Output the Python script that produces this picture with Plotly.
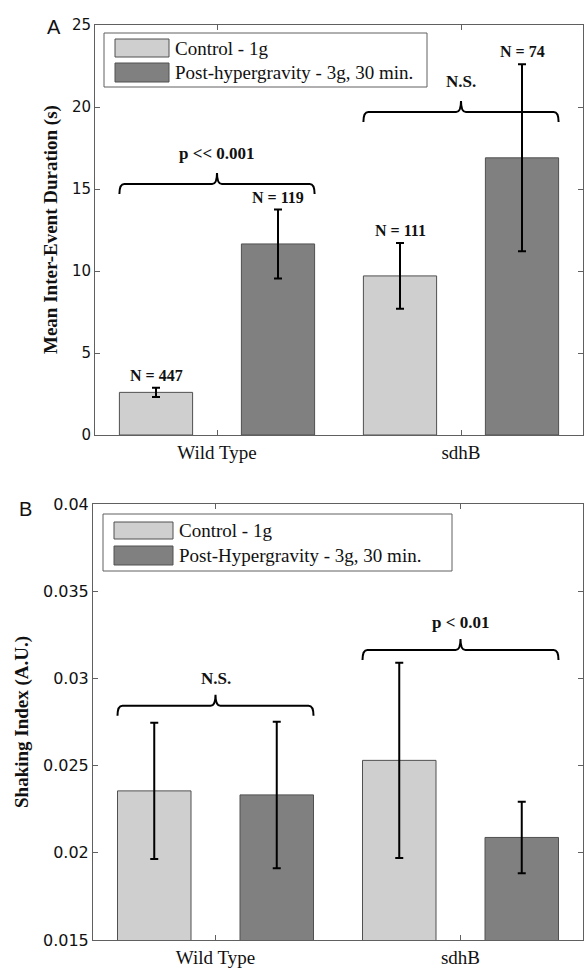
import plotly.graph_objects as go

# ---------------- data ----------------
groups = ["Wild Type", "sdhB"]

a_control = [2.6, 9.7]
a_control_err = [0.28, 2.0]
a_post = [11.65, 16.9]
a_post_err = [2.1, 5.7]
a_control_n = ["N = 447", "N = 111"]
a_post_n = ["N = 119", "N = 74"]
a_sig = ["p << 0.001", "N.S."]
a_sig_y = [15.3, 19.7]

b_control = [0.02355, 0.0253]
b_control_err = [0.0039, 0.0056]
b_post = [0.02332, 0.02088]
b_post_err = [0.0042, 0.00205]
b_sig = ["N.S.", "p < 0.01"]
b_sig_y = [0.02843, 0.03163]

a_yticks = [0, 5, 10, 15, 20, 25]
b_yticks = [0.015, 0.02, 0.025, 0.03, 0.035, 0.04]
b_yticktext = ["0.015", "0.02", "0.025", "0.03", "0.035", "0.04"]

legend_a = ["Control - 1g", "Post-hypergravity - 3g, 30 min."]
legend_b = ["Control - 1g", "Post-Hypergravity - 3g, 30 min."]

# ---------------- style ----------------
W, H = 584, 968
LIGHT = "#cfcfcf"
DARK = "#808080"
EDGE = "#505050"
AXC = "#606060"
SERIF = "Liberation Serif"
SANS = "DejaVu Sans"
BW = 0.3

def px(x):
    return x / W

def py(y):
    return 1 - y / H

fig = go.Figure()

panels = [
    dict(xa="x", ya="y", ctrl=a_control, ce=a_control_err, post=a_post, pe=a_post_err),
    dict(xa="x2", ya="y2", ctrl=b_control, ce=b_control_err, post=b_post, pe=b_post_err),
]
for p in panels:
    fig.add_trace(go.Bar(
        x=[0, 1], y=p["ctrl"], width=BW, offset=-0.4,
        marker=dict(color=LIGHT, line=dict(color=EDGE, width=1)),
        error_y=dict(type="data", array=p["ce"], color="black", thickness=2, width=4),
        xaxis=p["xa"], yaxis=p["ya"], showlegend=False, name="Control - 1g"))
    fig.add_trace(go.Bar(
        x=[0, 1], y=p["post"], width=BW, offset=0.1,
        marker=dict(color=DARK, line=dict(color=EDGE, width=1)),
        error_y=dict(type="data", array=p["pe"], color="black", thickness=2, width=4),
        xaxis=p["xa"], yaxis=p["ya"], showlegend=False, name="Post-hypergravity"))

axis_common = dict(showline=True, linecolor=AXC, linewidth=1, mirror="ticks",
                   ticks="inside", ticklen=5, tickcolor=AXC, showgrid=False,
                   zeroline=False, automargin=False)

fig.update_layout(
    width=W, height=H, margin=dict(l=0, r=0, t=0, b=0, autoexpand=False),
    plot_bgcolor="white", paper_bgcolor="white", barmode="overlay",
    xaxis=dict(domain=[px(95), px(583)], range=[-0.5, 1.5], tickvals=[0, 1],
               ticktext=groups, tickfont=dict(family=SERIF, size=19, color="#111"),
               anchor="y", **axis_common),
    yaxis=dict(domain=[py(435), py(25)], range=[0, 25], tickvals=a_yticks,
               tickfont=dict(family=SANS, size=15, color="#111"), anchor="x",
               **axis_common),
    xaxis2=dict(domain=[px(93), px(583)], range=[-0.5, 1.5], tickvals=[0, 1],
                ticktext=groups, tickfont=dict(family=SERIF, size=19, color="#111"),
                anchor="y2", **axis_common),
    yaxis2=dict(domain=[py(940), py(504)], range=[0.015, 0.04], tickvals=b_yticks,
                ticktext=b_yticktext,
                tickfont=dict(family=SANS, size=16, color="#111"), anchor="x2",
                **axis_common),
)

shapes = []
annotations = []

def bracket(xref, yref, x0, x1, y, ppu, text, tshift):
    drop = 10 / ppu
    peak = 11 / ppu
    xc = (x0 + x1) / 2
    dx = 0.02
    path = (f"M {x0},{y - drop} Q {x0},{y} {x0 + dx},{y} L {xc - dx},{y} "
            f"Q {xc},{y} {xc},{y + peak} Q {xc},{y} {xc + dx},{y} "
            f"L {x1 - dx},{y} Q {x1},{y} {x1},{y - drop}")
    shapes.append(dict(type="path", path=path, xref=xref, yref=yref,
                       line=dict(color="black", width=2)))
    annotations.append(dict(x=xc, y=y + peak, xref=xref, yref=yref, text=f"<b>{text}</b>",
                            showarrow=False, xanchor="center", yanchor="bottom", yshift=tshift,
                            font=dict(family=SERIF, size=17, color="#111")))

ppu_a = 410 / 25
ppu_b = 436 / 0.025
for i in range(2):
    bracket("x", "y", i - 0.4, i + 0.4, a_sig_y[i], ppu_a, a_sig[i], 8)
    bracket("x2", "y2", i - 0.4, i + 0.4, b_sig_y[i], ppu_b, b_sig[i], 5)

# N labels for panel A
for i in range(2):
    annotations.append(dict(x=i - 0.25, y=a_control[i] + a_control_err[i], xref="x", yref="y",
                            text=f"<b>{a_control_n[i]}</b>", showarrow=False, xanchor="center",
                            yanchor="bottom", yshift=2,
                            font=dict(family=SERIF, size=16, color="#111")))
    annotations.append(dict(x=i + 0.25, y=a_post[i] + a_post_err[i], xref="x", yref="y",
                            text=f"<b>{a_post_n[i]}</b>", showarrow=False, xanchor="center",
                            yanchor="bottom", yshift=2,
                            font=dict(family=SERIF, size=16, color="#111")))

# custom legends (paper coords)
def legend(box, sw_x, rows, text_x, labels):
    bx0, by0, bx1, by1 = box
    shapes.append(dict(type="rect", xref="paper", yref="paper",
                       x0=px(bx0), x1=px(bx1), y0=py(by1), y1=py(by0),
                       line=dict(color=AXC, width=1), fillcolor="white"))
    for (ry0, ry1), col, lab in zip(rows, [LIGHT, DARK], labels):
        shapes.append(dict(type="rect", xref="paper", yref="paper",
                           x0=px(sw_x[0]), x1=px(sw_x[1]), y0=py(ry1), y1=py(ry0),
                           line=dict(color=EDGE, width=1), fillcolor=col))
        annotations.append(dict(x=px(text_x), y=py((ry0 + ry1) / 2), xref="paper", yref="paper",
                                text=lab, showarrow=False, xanchor="left", yanchor="middle",
                                font=dict(family=SERIF, size=19, color="#111")))

legend((104, 33, 427, 87), (115, 169), [(39, 57), (63, 82)], 173, legend_a)
legend((103, 514, 452, 571), (114, 173), [(522, 539), (546, 565)], 177, legend_b)

# axis titles
annotations.append(dict(x=px(51), y=py(230), xref="paper", yref="paper",
                        text="<b>Mean Inter-Event Duration (s)</b>", textangle=-90,
                        xanchor="center", yanchor="middle",
                        showarrow=False, font=dict(family=SERIF, size=19, color="#111")))
annotations.append(dict(x=px(22), y=py(722), xref="paper", yref="paper",
                        text="<b>Shaking Index (A.U.)</b>", textangle=-90,
                        xanchor="center", yanchor="middle",
                        showarrow=False, font=dict(family=SERIF, size=19, color="#111")))

# panel letters
annotations.append(dict(x=px(54), y=py(27), xref="paper", yref="paper", text="A",
                        xanchor="center", yanchor="middle",
                        showarrow=False, font=dict(family="Liberation Sans", size=20, color="#111")))
annotations.append(dict(x=px(25), y=py(509), xref="paper", yref="paper", text="B",
                        xanchor="center", yanchor="middle",
                        showarrow=False, font=dict(family="Liberation Sans", size=20, color="#111")))

fig.update_layout(shapes=shapes, annotations=annotations)
fig.write_html("out.html", config={"displayModeBar": False},
               post_script="document.body.style.margin='0';document.body.style.overflow='hidden';")
